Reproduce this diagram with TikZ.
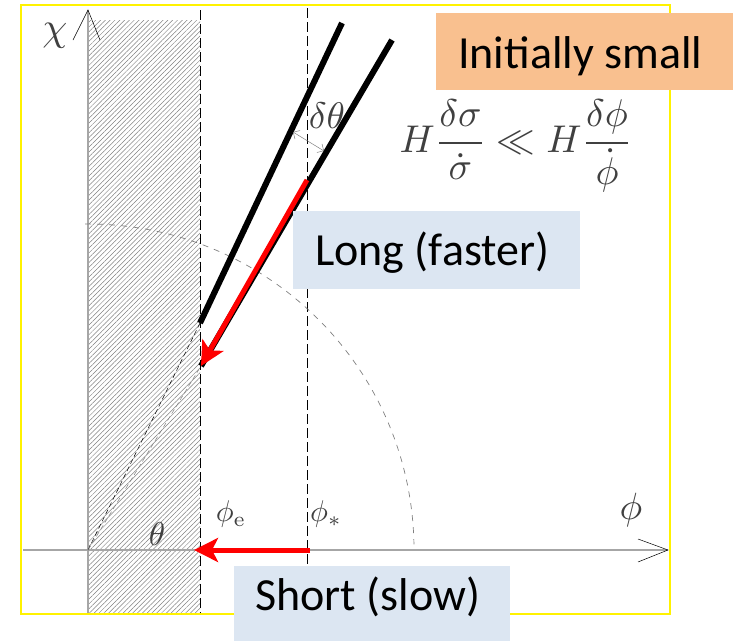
\documentclass[tikz,border=0pt]{standalone}
\usepackage{fontspec}
\setsansfont{Carlito}
\usetikzlibrary{arrows.meta,patterns.meta}
\definecolor{orangebox}{RGB}{249,192,143}
\definecolor{bluebox}{RGB}{220,230,242}
\begin{document}
\begin{tikzpicture}[x=1pt,y=-1pt,
  axisline/.style={draw=gray!70,line width=1.2pt},
  tipline/.style={draw=black,line width=0.5pt},
  guide/.style={draw=black,line width=0.9pt,dash pattern=on 10pt off 4pt},
  thick line/.style={draw=black,line width=6pt},
  redarrow/.style={draw=red,line width=5pt,-{Stealth[length=24pt,width=24pt,inset=6pt]}},
  labelbox/.style={inner sep=0pt,outer sep=0pt},
  boxtext/.style={font=\sffamily\fontsize{46}{50}\selectfont,anchor=base west,inner sep=0pt},
  mathlabel/.style={inner sep=0pt,text=black!75}]
\useasboundingbox (0,0) rectangle (741,640);
% frame
\draw[yellow,line width=2.5pt] (21,5) rectangle (670,614);
% hatched region
\fill[pattern={Lines[angle=45,distance=3.4pt,line width=0.5pt]},pattern color=gray] (88,20) rectangle (200,612);
% coordinates
\coordinate (O) at (88,550);
\coordinate (ytop) at (88,10);
\coordinate (ybot) at (88,613);
\coordinate (xleft) at (23,550);
\coordinate (xright) at (668,550);
% axes
\draw[axisline] (ybot) -- (ytop);
\draw[axisline] (xleft) -- (xright);
\draw[tipline] (73,40) -- (ytop) -- (100,40);
\draw[tipline] (638,539) -- (xright) -- (638,562);
% dashed verticals
\coordinate (pe top) at (200,10);
\coordinate (pe bot) at (200,613);
\coordinate (ps top) at (307,8);
\coordinate (ps bot) at (307,613);
\draw[guide] (pe top) -- (pe bot);
\draw[guide] (ps top) -- (ps bot);
% arc
\draw[gray,line width=0.7pt,dash pattern=on 6pt off 6pt] (O) ++(90.5:326pt) arc[start angle=90.5,end angle=1,radius=326pt];
% trajectories
\coordinate (a1) at (342,23);
\coordinate (a2) at (200,323);
\coordinate (b1) at (392,40);
\coordinate (b2) at (201,366);
\coordinate (r1) at (307,180);
\draw[black,line width=0.5pt,dash pattern=on 5pt off 3pt] (O) -- (a2);
\draw[gray,line width=0.5pt,dash pattern=on 5pt off 3pt] (O) -- (b2);
\draw[thick line] (a1) -- (a2);
\draw[thick line] (b1) -- (b2);
\draw[redarrow] (r1) -- (b2);
% horizontal red arrow
\coordinate (h1) at (310,550);
\coordinate (h2) at (194,550);
\draw[redarrow] (h1) -- (h2);
% delta theta arrow
\coordinate (d1) at (293,132);
\coordinate (d2) at (324,151);
\draw[gray,line width=0.5pt,{Straight Barb[length=5pt]}-{Straight Barb[length=5pt]}] (d1) -- (d2);
% math labels
\node[mathlabel] (chi) at (55,36) {\scalebox{4}{$\chi$}};
\node[mathlabel] (dth) at (327,116) {\scalebox{3.7}{$\delta\theta$}};
\node[mathlabel] (phi) at (631,510) {\scalebox{3.8}{$\phi$}};
\node[mathlabel] (phie) at (231,514) {\scalebox{3}{$\phi_{\mathrm{e}}$}};
\node[mathlabel] (phis) at (326,514) {\scalebox{3}{$\phi_{*}$}};
\node[mathlabel] (theta) at (157,534) {\scalebox{3.3}{$\theta$}};
\node[mathlabel] (eq) at (516,146) {\resizebox{233pt}{!}{$\displaystyle H\frac{\delta\sigma}{\dot\sigma}\ll H\frac{\delta\phi}{\dot\phi}$}};
% boxes
\node[labelbox,fill=orangebox,minimum width=297pt,minimum height=77pt,anchor=north west] (initbox) at (436,13) {};
\node[boxtext] (inittext) at (458,68) {Initially small};
\node[labelbox,fill=bluebox,minimum width=287pt,minimum height=78pt,anchor=north west] (longbox) at (293,211) {};
\node[boxtext] (longtext) at (315,265) {Long (faster)};
\node[labelbox,fill=bluebox,minimum width=276pt,minimum height=80pt,anchor=north west] (shortbox) at (234,566) {};
\node[boxtext] (shorttext) at (255,610) {Short (slow)};
\end{tikzpicture}
\end{document}
